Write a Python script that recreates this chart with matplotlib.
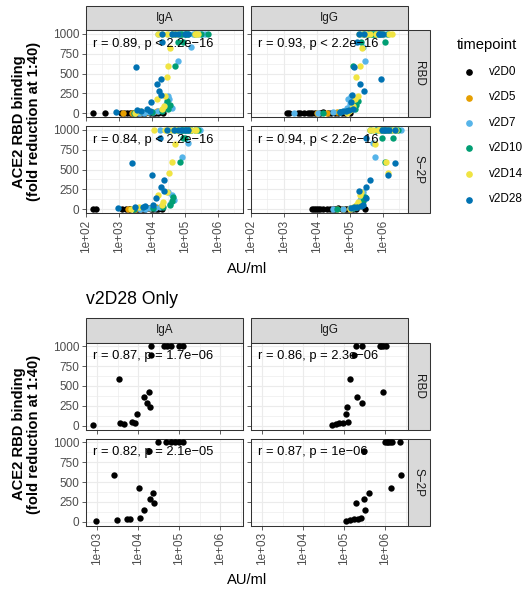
import matplotlib
matplotlib.use('Agg')
import matplotlib.pyplot as plt
from matplotlib.lines import Line2D
from matplotlib.patches import Rectangle
import numpy as np

plt.rcParams['font.family'] = ['Liberation Sans', 'DejaVu Sans']

# ---------------- data ----------------
timepoints = ['v2D0', 'v2D5', 'v2D7', 'v2D10', 'v2D14', 'v2D28']
tp_colors = ['#000000', '#E69F00', '#56B4E9', '#009E73', '#F0E442', '#0072B2']

# ACE2 RBD binding (fold reduction at 1:40) per sample, and AU/ml for each assay
y_D0 = [0, 0, 5, 0, 0, 3, 0, 5, 0, 0, 8, 0, 0, 5, 0, 0, 0, 0]
IgA_RBD_D0 = [166, 372, 1120, 1700, 2140, 2510, 3550, 3980, 4900, 6310, 7590, 8910, 1.05e4, 1.26e4, 1.58e4, 2.19e4, 1410, 5620]
IgA_S2P_D0 = [166, 200, 1260, 1620, 2000, 2820, 3550, 4170, 5010, 6310, 7940, 9120, 1.12e4, 1.32e4, 1.58e4, 2.0e4, 2240, 5620]
IgG_RBD_D0 = [1200, 1450, 2690, 3020, 3980, 5500, 6170, 6920, 8910, 1.23e4, 1.58e4, 2.19e4, 2.75e4, 3.55e4, 4.47e4, 5.62e4, 7.08e4, 1.0e5]
IgG_S2P_D0 = [6920, 7940, 9550, 1.12e4, 1.26e4, 1.58e4, 2.0e4, 2.51e4, 3.16e4, 3.55e4, 4.47e4, 5.62e4, 7.08e4, 7.94e4, 1.0e5, 1.26e5, 1.58e5, 2.82e5]

y_D5 = [5, 10, 20, 0, 40]
IgA_RBD_D5 = [1350, 7080, 1.41e4, 2510, 2.0e4]
IgA_S2P_D5 = [1860, 8910, 1.32e4, 3160, 2.0e4]
IgG_RBD_D5 = [1.0e4, 3.98e4, 7.94e4, 2.0e4, 1.0e5]
IgG_S2P_D5 = [3.98e4, 1.0e5, 1.58e5, 6.31e4, 2.0e5]

y_D7 = [0, 5, 10, 15, 25, 60, 117, 179, 216, 660, 837, 1000, 1000, 1000, 1000, 1000, 1000, 1000]
IgA_RBD_D7 = [3980, 5620, 7940, 1.12e4, 1.58e4, 3.98e4, 2.63e4, 3.31e4, 3.02e4, 6.03e4, 1.58e5, 1.58e4, 3.02e4, 7.59e4, 1.78e5, 2.51e5, 3.31e5, 4.17e5]
IgA_S2P_D7 = [4470, 6310, 8910, 1.26e4, 1.78e4, 3.55e4, 4.79e4, 3.98e4, 3.16e4, 7.94e4, 1.26e5, 1.78e4, 3.55e4, 7.08e4, 1.0e5, 1.58e5, 2.24e5, 2.82e5]
IgG_RBD_D7 = [2000, 1.10e4, 3.16e4, 5.01e4, 7.08e4, 7.94e4, 1.0e5, 8.91e4, 1.12e5, 2.82e5, 2.51e5, 2.0e5, 3.16e5, 3.98e5, 5.01e5, 7.08e5, 1.0e6, 1.26e6]
IgG_S2P_D7 = [3.16e4, 6.31e4, 1.0e5, 1.26e5, 1.58e5, 1.78e5, 2.0e5, 2.24e5, 2.51e5, 5.75e5, 5.13e5, 4.47e5, 6.31e5, 7.94e5, 1.0e6, 1.58e6, 2.0e6, 3.55e6]

y_D10 = [0, 10, 20, 50, 96, 150, 600, 900, 900, 1000, 1000, 1000, 1000, 1000, 1000, 1000, 1000, 1000]
IgA_RBD_D10 = [2950, 1.0e4, 2.0e4, 3.16e4, 3.55e4, 2.82e4, 5.01e4, 8.91e4, 6.31e4, 3.98e4, 7.08e4, 7.94e4, 1.0e5, 1.12e5, 1.26e5, 2.0e5, 3.16e5, 5.01e5]
IgA_S2P_D10 = [2950, 1.12e4, 2.24e4, 3.47e4, 3.98e4, 4.47e4, 7.08e4, 1.0e5, 8.91e4, 5.01e4, 7.94e4, 8.91e4, 1.12e5, 1.26e5, 1.41e5, 1.58e5, 2.0e5, 2.51e5]
IgG_RBD_D10 = [1.58e4, 5.01e4, 7.94e4, 1.41e5, 1.58e5, 1.78e5, 1.26e5, 1.15e6, 2.24e5, 2.51e5, 3.55e5, 3.98e5, 4.47e5, 5.01e5, 5.62e5, 6.31e5, 8.91e5, 1.41e6]
IgG_S2P_D10 = [3.98e4, 1.26e5, 1.58e5, 2.24e5, 2.51e5, 2.82e5, 1.15e6, 9.77e5, 2.04e6, 3.98e5, 6.31e5, 9.12e5, 1.0e6, 1.26e6, 1.58e6, 1.78e6, 2.51e6, 2.82e6]

y_D14 = [0, 25, 50, 84, 179, 218, 458, 600, 825, 1000, 1000, 1000, 1000, 1000, 1000, 1000, 1000, 1000]
IgA_RBD_D14 = [3160, 4470, 2.0e4, 2.34e4, 1.48e4, 2.51e4, 2.95e4, 3.16e4, 3.55e4, 1.51e4, 2.0e4, 4.37e4, 5.01e4, 5.75e4, 2.0e5, 2.24e5, 2.45e5, 2.82e4]
IgA_S2P_D14 = [2400, 3980, 2.0e4, 2.24e4, 1.58e4, 2.82e4, 3.39e4, 3.98e4, 5.01e4, 1.17e4, 2.51e4, 5.37e4, 3.98e4, 6.31e4, 2.14e5, 2.0e5, 1.58e5, 3.16e4]
IgG_RBD_D14 = [7.94e4, 9.77e4, 1.12e5, 1.26e5, 1.41e5, 1.78e5, 1.58e5, 2.0e5, 2.34e5, 1.86e5, 3.16e5, 8.32e5, 1.86e6, 2.51e5, 1.0e6, 1.58e6, 6.31e5, 3.98e5]
IgG_S2P_D14 = [1.0e5, 1.26e5, 1.58e5, 1.78e5, 2.0e5, 2.14e5, 1.45e6, 1.29e6, 5.62e5, 4.07e5, 7.24e5, 1.29e6, 2.57e6, 5.01e5, 1.0e6, 2.0e6, 1.58e6, 7.94e5]

y_D28 = [10, 20, 30, 35, 45, 142, 230, 282, 363, 425, 584, 893, 1000, 1000, 1000, 1000, 1000, 1000]
IgA_RBD_D28 = [794, 4600, 8500, 3600, 7100, 9500, 1.9e4, 1.6e4, 1.4e4, 1.85e4, 3300, 2.1e4, 2.1e4, 4.2e4, 5.1e4, 6.3e4, 1.0e5, 1.26e5]
IgA_S2P_D28 = [950, 3000, 5200, 6200, 1.12e4, 1.35e4, 2.4e4, 1.95e4, 2.3e4, 1.02e4, 2500, 1.78e4, 2.95e4, 4.8e4, 6.3e4, 7.9e4, 1.0e5, 1.23e5]
IgG_RBD_D28 = [5.1e4, 6.2e4, 7.4e4, 9.3e4, 1.23e5, 1.12e5, 1.17e5, 2.75e5, 2.0e5, 8.9e5, 1.35e5, 1.7e5, 1.9e5, 2.75e5, 7.6e5, 8.9e5, 1.02e6, 7.9e5]
IgG_S2P_D28 = [1.12e5, 1.35e5, 1.7e5, 2.2e5, 2.5e5, 3.2e5, 1.9e5, 3.0e5, 4.1e5, 1.41e6, 2.4e6, 3.0e5, 9.8e5, 1.17e6, 1.5e6, 2.35e6, 1.12e6, 1.32e6]

isotypes = ['IgA', 'IgG']
antigens = ['RBD', 'S\u22122P']

cor_all = {('IgA', 0): 'r = 0.89, p < 2.2e\u221216', ('IgG', 0): 'r = 0.93, p < 2.2e\u221216',
           ('IgA', 1): 'r = 0.84, p < 2.2e\u221216', ('IgG', 1): 'r = 0.94, p < 2.2e\u221216'}
cor_d28 = {('IgA', 0): 'r = 0.87, p = 1.7e\u221206', ('IgG', 0): 'r = 0.86, p = 2.3e\u221206',
           ('IgA', 1): 'r = 0.82, p = 2.1e\u221205', ('IgG', 1): 'r = 0.87, p = 1e\u221206'}

y_ticks = [0, 250, 500, 750, 1000]
y_labels = ['0', '250', '500', '750', '1000']

# ---------------- layout ----------------
W, H = 529, 592
DPI = 100
fig = plt.figure(figsize=(W / DPI, H / DPI), dpi=DPI)
fig.patch.set_facecolor('white')

def rect(l, t, r, b):
    return [l / W, 1 - b / H, (r - l) / W, (b - t) / H]

series = {
    'v2D0': (y_D0, IgA_RBD_D0, IgA_S2P_D0, IgG_RBD_D0, IgG_S2P_D0),
    'v2D5': (y_D5, IgA_RBD_D5, IgA_S2P_D5, IgG_RBD_D5, IgG_S2P_D5),
    'v2D7': (y_D7, IgA_RBD_D7, IgA_S2P_D7, IgG_RBD_D7, IgG_S2P_D7),
    'v2D10': (y_D10, IgA_RBD_D10, IgA_S2P_D10, IgG_RBD_D10, IgG_S2P_D10),
    'v2D14': (y_D14, IgA_RBD_D14, IgA_S2P_D14, IgG_RBD_D14, IgG_S2P_D14),
    'v2D28': (y_D28, IgA_RBD_D28, IgA_S2P_D28, IgG_RBD_D28, IgG_S2P_D28),
}
col_index = {('IgA', 0): 1, ('IgA', 1): 2, ('IgG', 0): 3, ('IgG', 1): 4}

GRID = '#EBEBEB'
DARK = '#333333'
TICKC = '#4D4D4D'

def log_limits(tps):
    vals = []
    for tp in tps:
        for k in range(1, 5):
            vals.extend(series[tp][k])
    lv = np.log10(np.array(vals, dtype=float))
    lo, hi = lv.min(), lv.max()
    pad = 0.05 * (hi - lo)
    return 10 ** (lo - pad), 10 ** (hi + pad)

def strip(l, t, r, b, text, rot=0):
    sax = fig.add_axes(rect(l, t, r, b))
    sax.set_xlim(0, 1); sax.set_ylim(0, 1)
    sax.add_patch(Rectangle((0, 0), 1, 1, facecolor='#D9D9D9', edgecolor=DARK,
                            lw=0.75, transform=sax.transAxes, clip_on=False))
    sax.axis('off')
    sax.text(0.5, 0.5, text, ha='center', va='center', rotation=rot,
             fontsize=8.5, color='#1A1A1A')

def draw_block(tps, top, cor, xmaj, xmaj_lab, color_override=None):
    xlim = log_limits(tps)
    lo, hi = np.log10(xlim[0]), np.log10(xlim[1])
    xmin = [10 ** (e + 0.5) for e in range(-1, 8) if lo <= e + 0.5 <= hi]
    cols = [(86, 243), (251, 408)]
    strip_h = 24.5
    p_top = top + strip_h
    rows = [(p_top, p_top + 87), (p_top + 96, p_top + 183)]
    for ci, iso in enumerate(isotypes):
        l, r = cols[ci]
        strip(l, top, r, p_top, iso)
        for ri in range(2):
            t, b = rows[ri]
            ax = fig.add_axes(rect(l, t, r, b))
            ax.set_facecolor('white')
            ax.set_xscale('log')
            ax.set_xlim(*xlim)
            ax.set_ylim(-50, 1050)
            ax.set_xticks(xmaj)
            ax.set_xticks(xmin, minor=True)
            ax.xaxis.set_minor_formatter(matplotlib.ticker.NullFormatter())
            ax.set_yticks(y_ticks)
            ax.set_yticks([125, 375, 625, 875], minor=True)
            ax.grid(which='major', color=GRID, lw=0.85)
            ax.grid(which='minor', color=GRID, lw=0.45)
            ax.set_axisbelow(True)
            ax.tick_params(which='minor', length=0)
            ax.tick_params(which='major', length=2.6, width=0.55, color=DARK,
                           labelsize=8.5, labelcolor=TICKC, pad=2.0)
            for s in ax.spines.values():
                s.set_color(DARK); s.set_linewidth(0.75)
            if ci == 0:
                ax.set_yticklabels(y_labels)
            else:
                ax.set_yticklabels([])
            if ri == 1:
                ax.set_xticklabels(xmaj_lab, rotation=90)
            else:
                ax.set_xticklabels([])
            k = col_index[(iso, ri)]
            for tp in tps:
                ys = series[tp][0]
                xs = series[tp][k]
                c = color_override or tp_colors[timepoints.index(tp)]
                ax.scatter(xs, ys, s=21, color=c, linewidths=0, zorder=3, clip_on=False)
            ax.text(0.043, 0.84, cor[(iso, ri)], transform=ax.transAxes,
                    ha='left', va='center', fontsize=9.3, color='black', zorder=5)
            if ci == 1:
                strip(408, t, 430, b, antigens[ri], rot=-90)
    mid = (rows[0][0] + rows[1][1]) / 2
    fig.text(18.7 / W, 1 - mid / H, 'ACE2 RBD binding', rotation=90, ha='center',
             va='center', fontsize=10.6, fontweight='bold')
    fig.text(33.7 / W, 1 - mid / H, '(fold reduction at 1:40)', rotation=90, ha='center',
             va='center', fontsize=10.6, fontweight='bold')
    return rows[1][1]

top_xmaj = [1e2, 1e3, 1e4, 1e5, 1e6]
top_xlab = ['1e+02', '1e+03', '1e+04', '1e+05', '1e+06']
bot_xmaj = [1e3, 1e4, 1e5, 1e6]
bot_xlab = ['1e+03', '1e+04', '1e+05', '1e+06']

draw_block(timepoints, 5.5, cor_all, top_xmaj, top_xlab)
fig.text(247 / W, 1 - 268.5 / H, 'AU/ml', ha='center', va='center', fontsize=10.6)

fig.text(86 / W, 1 - 299 / H, 'v2D28 Only', ha='left', va='center', fontsize=12.7)
draw_block(['v2D28'], 318, cor_d28, bot_xmaj, bot_xlab, color_override='#000000')
fig.text(247 / W, 1 - 580 / H, 'AU/ml', ha='center', va='center', fontsize=10.6)

# legend
fig.text(457 / W, 1 - 45 / H, 'timepoint', ha='left', va='center', fontsize=10.6)
for i, (tp, c) in enumerate(zip(timepoints, tp_colors)):
    yy = 72 + i * 25.5
    fig.add_artist(Line2D([469 / W], [1 - yy / H], marker='o', markersize=3.8,
                          color=c, linestyle='none', transform=fig.transFigure))
    fig.text(489 / W, 1 - yy / H, tp, ha='left', va='center', fontsize=8.5)

fig.savefig('out.png', dpi=DPI, facecolor='white')
